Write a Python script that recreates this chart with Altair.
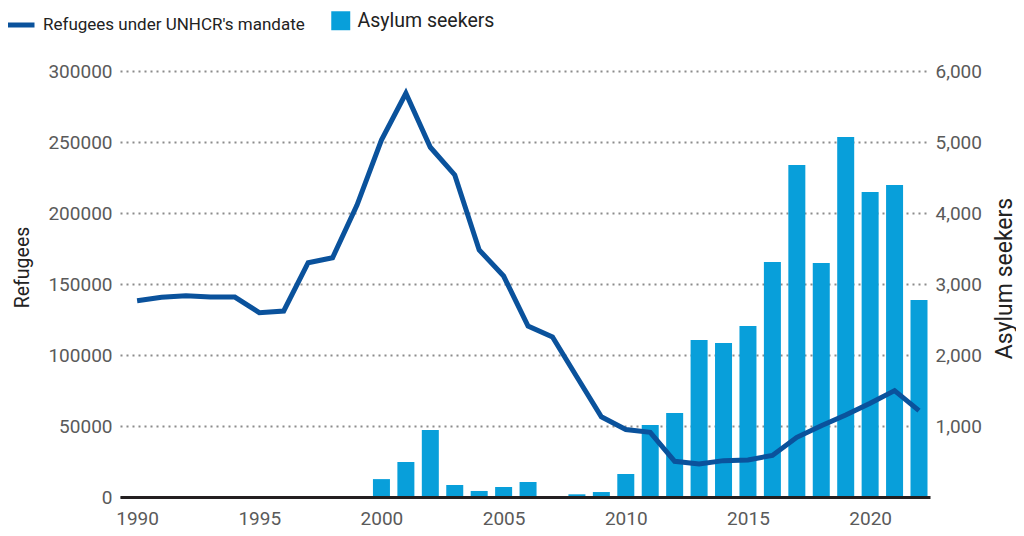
import altair as alt
import pandas as pd

years = list(range(1990, 2023))
refugees = [138200, 140600, 141800, 140800, 140800, 129800, 131000, 165000, 168500, 205600,
            251400, 284300, 246300, 226800, 174000, 155600, 120400, 112700, 84500, 56500,
            47500, 45500, 25100, 23200, 25600, 26100, 29300, 42000, 50200, 57700,
            66000, 74900, 60800]
asylum = [None, None, None, None, None, None, None, None, None, None,
          252, 493, 944, 169, 85, 141, 211, 8, 38, 70,
          324, 1014, 1183, 2211, 2169, 2408, 3310, 4676, 3296, 5070,
          4296, 4394, 2775]

LINE_LABEL = "Refugees under UNHCR's mandate"
BAR_LABEL = "Asylum seekers"
LINE_COLOR = "#0A529C"
BAR_COLOR = "#089FDA"
FONT = "Roboto, Liberation Sans, sans-serif"

df = pd.DataFrame({"year": years, "refugees": refugees, "asylum": asylum})
df["lk"] = LINE_LABEL
df["bk"] = BAR_LABEL

x = alt.X("year:Q",
          scale=alt.Scale(domain=[1989.3, 2022.45], nice=False, zero=False, padding=0),
          axis=alt.Axis(title=None, values=[1990, 1995, 2000, 2005, 2010, 2015, 2020],
                        format="d", ticks=False, grid=False, labelPadding=12,
                        labelFontSize=19, labelColor="#5a5a5a", labelFont=FONT,
                        domainColor="#231F20", domainWidth=3, zindex=1,
                        labelFlush=False))

bars = alt.Chart(df).mark_bar(size=17).encode(
    x=x,
    y=alt.Y("asylum:Q",
            scale=alt.Scale(domain=[0, 6000], nice=False),
            axis=alt.Axis(orient="right", title="Asylum seekers",
                          values=[1000, 2000, 3000, 4000, 5000, 6000], format=",d",
                          grid=False, ticks=False, domain=False, labelPadding=5,
                          labelFontSize=19, labelColor="#5a5a5a", labelFont=FONT,
                          titleFont=FONT, titleFontSize=23, titleFontWeight="normal",
                          titleColor="#222", titleAngle=270, titleX=74, titleY=207,
                          titleAlign="center", titleBaseline="middle")),
    fill=alt.Fill("bk:N", scale=alt.Scale(domain=[BAR_LABEL], range=[BAR_COLOR]),
                  legend=alt.Legend(title=None, orient="none", legendX=211, legendY=-60,
                                    symbolType="square", symbolSize=360,
                                    symbolStrokeWidth=0, labelFontSize=19.5,
                                    labelFont=FONT, labelColor="#222", labelOffset=7,
                                    labelLimit=400, padding=0))
).transform_filter("datum.asylum != null")

line = alt.Chart(df).mark_line(strokeWidth=5, strokeJoin="miter").encode(
    x=x,
    y=alt.Y("refugees:Q",
            scale=alt.Scale(domain=[0, 300000], nice=False),
            axis=alt.Axis(orient="left", title="Refugees",
                          values=[0, 50000, 100000, 150000, 200000, 250000, 300000],
                          format="d", ticks=False, domain=False, labelPadding=8,
                          grid=True, gridColor="#8c8c8c", gridDash=[2, 4], gridWidth=2,
                          labelFontSize=19, labelColor="#5a5a5a", labelFont=FONT,
                          titleFont=FONT, titleFontSize=19.5, titleFontWeight="normal",
                          titleColor="#222", titleAngle=270, titleX=-98, titleY=196,
                          titleAlign="center", titleBaseline="middle")),
    stroke=alt.Stroke("lk:N", scale=alt.Scale(domain=[LINE_LABEL], range=[LINE_COLOR]),
                      legend=alt.Legend(title=None, orient="none", legendX=-115, legendY=-62,
                                        symbolType="stroke", symbolSize=729,
                                        symbolStrokeWidth=5, labelFontSize=17,
                                        labelFont=FONT, labelColor="#222", labelOffset=6,
                                        labelLimit=400, padding=0))
)

chart = alt.layer(bars, line).resolve_scale(y="independent").properties(
    width=810, height=426,
    autosize=alt.AutoSizeParams(type="none"),
    padding={"left": 112, "top": 63, "right": 86, "bottom": 31},
).configure_view(stroke=None)

chart.save("out.html", embed_options={"renderer": "svg", "actions": False})
